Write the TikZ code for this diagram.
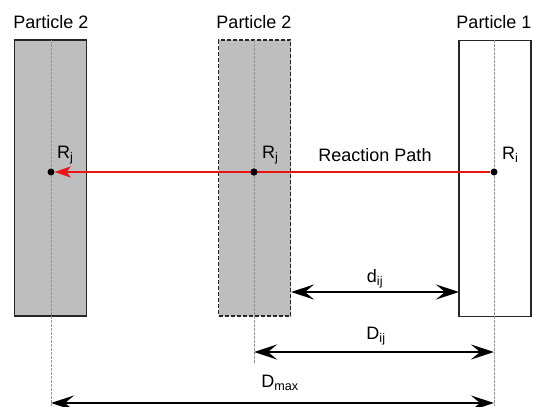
\documentclass[tikz,border=0pt]{standalone}
\usepackage{fontspec}
\setmainfont{Liberation Sans}
\usetikzlibrary{arrows.meta}
\definecolor{pgray}{RGB}{190,190,190}
\definecolor{cline}{RGB}{150,150,150}
\definecolor{rpath}{RGB}{235,20,20}
\begin{document}
\begin{tikzpicture}[x=1pt,y=-1pt,
  particle/.style={draw=black!85,line width=1.8pt,minimum width=72pt,minimum height=276pt,inner sep=0pt,fill=pgray},
  centerline/.style={cline,line width=0.9pt,dash pattern=on 2.5pt off 1.5pt},
  ctr/.style={circle,fill=black,inner sep=0pt,minimum size=7pt},
  lbl/.style={font=\fontsize{18}{20}\selectfont,inner sep=0pt},
  dim/.style={line width=1.6pt,{Stealth[length=23pt,width=15pt,inset=9pt]}-{Stealth[length=23pt,width=15pt,inset=9pt]}}]
\useasboundingbox (0,0) rectangle (533,407);
% particles
\node[particle] (P2a) at (50.5,178) {};
\node[particle,dash pattern=on 4pt off 2pt] (P2b) at (254.5,178) {};
\node[particle,fill=white] (P1) at (495,178.5) {};
% center lines
\coordinate (c1t) at (51,40); \coordinate (c1b) at (51,406);
\coordinate (c2t) at (254,40); \coordinate (c2b) at (254,364);
\coordinate (c3t) at (494,40); \coordinate (c3b) at (494,406);
\draw[centerline] (c1t) -- (c1b);
\draw[centerline] (c2t) -- (c2b);
\draw[centerline] (c3t) -- (c3b);
% titles
\node[lbl] (t1) at (51,22) {Particle 2};
\node[lbl] (t2) at (254,22) {Particle 2};
\node[lbl] (t3) at (494,22) {Particle 1};
% centers
\node[ctr] (Rj1) at (51,172) {};
\node[ctr] (Rj2) at (254,172) {};
\node[ctr] (Ri) at (494,172) {};
\draw[rpath,line width=1.4pt,-{Stealth[length=16pt,width=11pt,inset=4pt]}] (Ri) -- (Rj1);
\node[ctr] at (Rj2) {};
\node[lbl,anchor=west] (lRj1) at (57,155) {R\textsubscript{j}};
\node[lbl,anchor=west] (lRj2) at (262,155) {R\textsubscript{j}};
\node[lbl,anchor=west] (lRi) at (502,155) {R\textsubscript{i}};
\node[lbl] (lrp) at (375,155) {Reaction Path};
% dimensions
\coordinate (d1) at (291,292); \coordinate (d2) at (459,292);
\draw[dim] (d1) -- (d2);
\node[lbl] (ld) at (375,279) {d\textsubscript{ij}};
\coordinate (D1) at (254,352); \coordinate (D2) at (494,352);
\draw[dim] (D1) -- (D2);
\node[lbl] (lD) at (376,336) {D\textsubscript{ij}};
\coordinate (M1) at (51,403); \coordinate (M2) at (494,403);
\draw[dim] (M1) -- (M2);
\node[lbl] (lM) at (280,383) {D\textsubscript{max}};
\end{tikzpicture}
\end{document}
